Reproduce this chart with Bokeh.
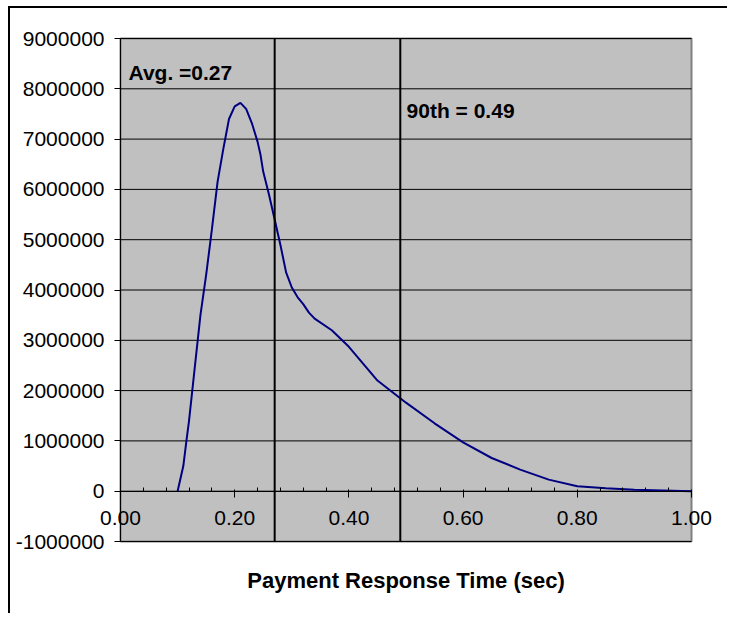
from bokeh.plotting import figure
from bokeh.models import FixedTicker, NumeralTickFormatter, Label, Range1d
from bokeh.embed import file_html
from bokeh.resources import INLINE

# Payment response time distribution
resp_time = [0.100, 0.110, 0.115, 0.120, 0.130, 0.140, 0.150, 0.160, 0.170, 0.180,
             0.190, 0.200, 0.210, 0.220, 0.230, 0.240, 0.245, 0.250, 0.260, 0.270,
             0.280, 0.290, 0.300, 0.310, 0.320, 0.330, 0.340, 0.370, 0.400, 0.450,
             0.500, 0.550, 0.600, 0.650, 0.700, 0.750, 0.800, 0.850, 0.900, 0.950, 1.000]
volume = [0, 500000, 960000, 1400000, 2450000, 3500000, 4300000, 5200000, 6150000, 6800000,
          7400000, 7650000, 7720000, 7600000, 7320000, 6950000, 6700000, 6350000, 5900000, 5400000,
          4900000, 4350000, 4050000, 3860000, 3720000, 3550000, 3430000, 3200000, 2870000, 2200000,
          1760000, 1350000, 970000, 660000, 430000, 230000, 100000, 60000, 30000, 15000, 0]

avg_time = 0.27
p90_time = 0.49
avg_label = "Avg. =0.27"
p90_label = "90th = 0.49"
x_title = "Payment Response Time (sec)"

x_min, x_max = 0.0, 1.0
y_min, y_max = -1000000, 9000000
x_major_ticks = [0.0, 0.2, 0.4, 0.6, 0.8, 1.0]
x_minor_ticks = [0.04, 0.08, 0.12, 0.16, 0.24, 0.28, 0.32, 0.36, 0.44, 0.48, 0.52, 0.56,
                 0.64, 0.68, 0.72, 0.76, 0.84, 0.88, 0.92, 0.96]
y_ticks = [-1000000, 0, 1000000, 2000000, 3000000, 4000000, 5000000, 6000000, 7000000,
           8000000, 9000000]

# ---- layout (pixels) ----
W, H = 727, 613
PLOT_L, PLOT_R, PLOT_T, PLOT_B = 120, 691, 38, 541
FONT = "Liberation Sans"

xs = (x_max - x_min) / (PLOT_R - PLOT_L)     # data units per px
ys = (y_max - y_min) / (PLOT_B - PLOT_T)
x_range = Range1d(x_min - PLOT_L * xs, x_min + (W - PLOT_L) * xs)
y_range = Range1d(y_max - (H - PLOT_T) * ys, y_max + PLOT_T * ys)

p = figure(width=W, height=H, output_backend="svg", toolbar_location=None,
           x_range=x_range, y_range=y_range, min_border=0,
           min_border_left=0, min_border_right=0, min_border_top=0, min_border_bottom=0)
p.background_fill_color = None
p.border_fill_color = None
p.outline_line_color = None
p.styles = {
    "background-image": "linear-gradient(black, black), linear-gradient(black, black)",
    "background-size": "2px 100%, 100% 2px",
    "background-position": "8px 6px, 8px 6px",
    "background-repeat": "no-repeat",
    "background-color": "white",
}
p.grid.visible = False

# plot area
p.quad(left=[x_min], right=[x_max], bottom=[y_min], top=[y_max],
       fill_color="#C0C0C0", line_color="#808080", line_width=2)
# horizontal gridlines
p.segment(x0=[x_min] * len(y_ticks), x1=[x_max] * len(y_ticks), y0=y_ticks, y1=y_ticks,
          line_color="black", line_width=1)

# x axis at y = 0
xa = p.xaxis[0]
xa.fixed_location = 0
xa.bounds = (x_min, x_max)
xa.ticker = FixedTicker(ticks=x_major_ticks, minor_ticks=x_minor_ticks)
xa.formatter = NumeralTickFormatter(format="0.00")
xa.axis_line_color = "black"
xa.major_tick_line_color = "black"
xa.minor_tick_line_color = "black"
xa.major_tick_in = 2
xa.major_tick_out = 6
xa.minor_tick_in = 4
xa.minor_tick_out = 0
xa.major_label_standoff = 14
xa.major_label_text_font = FONT
xa.major_label_text_font_size = "21px"
xa.major_label_text_color = "black"
xa.axis_label = x_title
xa.axis_label_standoff = 39
xa.axis_label_text_font = FONT
xa.axis_label_text_font_size = "22px"
xa.axis_label_text_font_style = "bold"
xa.axis_label_text_color = "black"

# y axis at x = 0
ya = p.yaxis[0]
ya.fixed_location = 0
ya.bounds = (y_min, y_max)
ya.ticker = FixedTicker(ticks=y_ticks)
ya.formatter = NumeralTickFormatter(format="0")
ya.axis_line_color = "black"
ya.major_tick_line_color = "black"
ya.minor_tick_line_color = None
ya.major_tick_in = 0
ya.major_tick_out = 6
ya.major_label_standoff = 10
ya.major_label_text_font = FONT
ya.major_label_text_font_size = "21px"
ya.major_label_text_color = "black"

p.line(resp_time, volume, line_color="#000080", line_width=2)

for t in (avg_time, p90_time):
    p.segment(x0=[t], x1=[t], y0=[y_min], y1=[y_max], line_color="black", line_width=2)

p.add_layout(Label(x=0.014, y=8330000, text=avg_label, text_baseline="middle",
                   text_font=FONT, text_font_size="21px", text_font_style="bold",
                   text_color="black"))
p.add_layout(Label(x=0.501, y=7565000, text=p90_label, text_baseline="middle",
                   text_font=FONT, text_font_size="21px", text_font_style="bold",
                   text_color="black"))

open("out.html", "w").write(file_html(p, INLINE))
